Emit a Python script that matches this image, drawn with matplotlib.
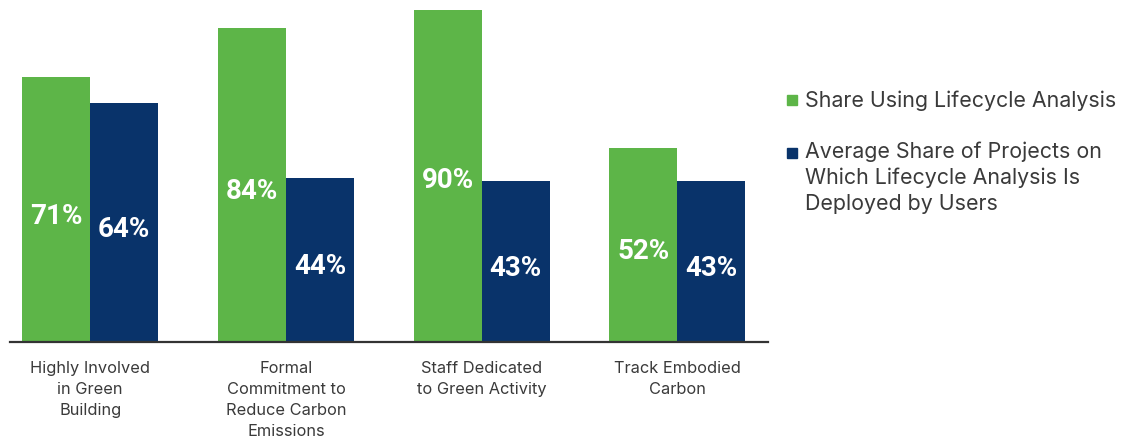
import matplotlib
matplotlib.use("Agg")
import matplotlib.pyplot as plt
from matplotlib.patches import Rectangle
import numpy as np

# === データ ===
categories = [
    "Highly Involved\nin Green\nBuilding",
    "Formal\nCommitment to\nReduce Carbon\nEmissions",
    "Staff Dedicated\nto Green Activity",
    "Track Embodied\nCarbon",
]
share_lca = [71, 84, 90, 52]
avg_share_projects = [64, 44, 43, 43]
series_labels = [
    "Share Using Lifecycle Analysis",
    "Average Share of Projects on\nWhich Lifecycle Analysis Is\nDeployed by Users",
]

GREEN = "#5DB548"
NAVY = "#09336A"
TEXT = "#3a3a3a"

plt.rcParams['font.family'] = ['Inter', 'DejaVu Sans']

W, H = 1137, 442
fig = plt.figure(figsize=(W / 100, H / 100), dpi=100)
ax = fig.add_axes([0.0088, 0.2262, 0.667, 0.7512])

x = np.arange(len(categories))
w = 0.347
b1 = ax.bar(x - w / 2, share_lca, width=w, color=GREEN)
b2 = ax.bar(x + w / 2, avg_share_projects, width=w, color=NAVY)

# 値ラベル (棒の中央より少し下)
for bars, vals in [(b1, share_lca), (b2, avg_share_projects)]:
    for rect, v in zip(bars, vals):
        ax.text(rect.get_x() + rect.get_width() / 2, v / 2 - 1.8, f"{v}%",
                ha='center', va='center', color='white', fontsize=20,
                fontweight='bold', family=['Roboto', 'DejaVu Sans'])

ax.set_xlim(-0.41, 3.465)
ax.set_ylim(0, 88.8)
ax.set_xticks(x)
ax.set_xticklabels(categories, fontsize=11.8, color=TEXT, linespacing=1.5)
ax.tick_params(axis='x', length=0, pad=14)
ax.set_yticks([])
for s in ['top', 'right', 'left']:
    ax.spines[s].set_visible(False)
ax.spines['bottom'].set_color('#333333')
ax.spines['bottom'].set_linewidth(1.6)

# === 凡例 (手動: 四角は1行目に揃える) ===
legend_items = [(GREEN, series_labels[0], 95, 3), (NAVY, series_labels[1], 148, 1)]
for color, label, top_px, dy in legend_items:
    fig.patches.append(Rectangle((787 / W, 1 - (top_px + 10) / H), 10 / W, 10 / H,
                                 transform=fig.transFigure, color=color))
    fig.text(805 / W, 1 - (top_px - 7 + dy) / H, label, ha='left', va='top',
             fontsize=15.4, color=TEXT, linespacing=1.33)

fig.savefig("out.png", dpi=100)
